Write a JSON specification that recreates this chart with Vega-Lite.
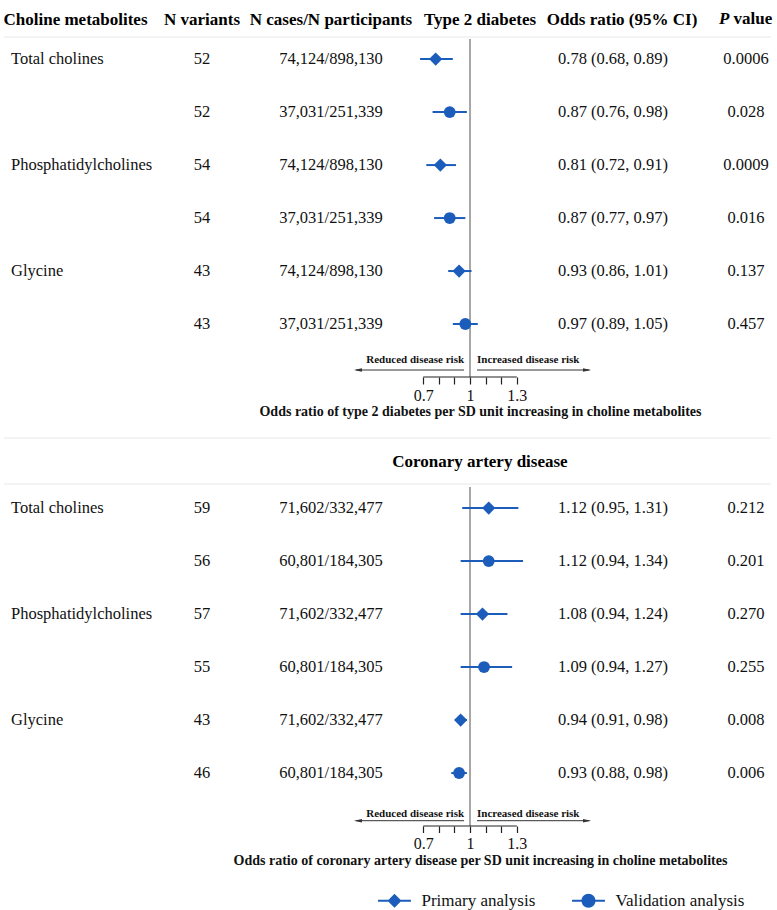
{
  "$schema": "https://vega.github.io/schema/vega-lite/v6.json",
  "background": "white",
  "padding": {"left": 3, "top": 9, "right": 5, "bottom": 2},
  "spacing": 18,
  "config": {
    "font": "Liberation Serif",
    "view": {"stroke": null},
    "axisY": {"disable": true},
    "text": {"font": "Liberation Serif", "fontSize": 16.5, "color": "#111", "baseline": "middle"},
    "title": {"font": "Liberation Serif", "fontSize": 17, "fontWeight": "bold", "color": "#000", "anchor": "middle"}
  },
  "datasets": {
    "t2d": [
      {"row": 1, "metabolite": "Total cholines", "nvar": "52", "ncases": "74,124/898,130", "analysis": "Primary analysis", "or": 0.78, "lo": 0.68, "hi": 0.89, "or_ci": "0.78 (0.68, 0.89)", "p": "0.0006"},
      {"row": 2, "metabolite": "", "nvar": "52", "ncases": "37,031/251,339", "analysis": "Validation analysis", "or": 0.87, "lo": 0.76, "hi": 0.98, "or_ci": "0.87 (0.76, 0.98)", "p": "0.028"},
      {"row": 3, "metabolite": "Phosphatidylcholines", "nvar": "54", "ncases": "74,124/898,130", "analysis": "Primary analysis", "or": 0.81, "lo": 0.72, "hi": 0.91, "or_ci": "0.81 (0.72, 0.91)", "p": "0.0009"},
      {"row": 4, "metabolite": "", "nvar": "54", "ncases": "37,031/251,339", "analysis": "Validation analysis", "or": 0.87, "lo": 0.77, "hi": 0.97, "or_ci": "0.87 (0.77, 0.97)", "p": "0.016"},
      {"row": 5, "metabolite": "Glycine", "nvar": "43", "ncases": "74,124/898,130", "analysis": "Primary analysis", "or": 0.93, "lo": 0.86, "hi": 1.01, "or_ci": "0.93 (0.86, 1.01)", "p": "0.137"},
      {"row": 6, "metabolite": "", "nvar": "43", "ncases": "37,031/251,339", "analysis": "Validation analysis", "or": 0.97, "lo": 0.89, "hi": 1.05, "or_ci": "0.97 (0.89, 1.05)", "p": "0.457"}
    ],
    "cad": [
      {"row": 1, "metabolite": "Total cholines", "nvar": "59", "ncases": "71,602/332,477", "analysis": "Primary analysis", "or": 1.12, "lo": 0.95, "hi": 1.31, "or_ci": "1.12 (0.95, 1.31)", "p": "0.212"},
      {"row": 2, "metabolite": "", "nvar": "56", "ncases": "60,801/184,305", "analysis": "Validation analysis", "or": 1.12, "lo": 0.94, "hi": 1.34, "or_ci": "1.12 (0.94, 1.34)", "p": "0.201"},
      {"row": 3, "metabolite": "Phosphatidylcholines", "nvar": "57", "ncases": "71,602/332,477", "analysis": "Primary analysis", "or": 1.08, "lo": 0.94, "hi": 1.24, "or_ci": "1.08 (0.94, 1.24)", "p": "0.270"},
      {"row": 4, "metabolite": "", "nvar": "55", "ncases": "60,801/184,305", "analysis": "Validation analysis", "or": 1.09, "lo": 0.94, "hi": 1.27, "or_ci": "1.09 (0.94, 1.27)", "p": "0.255"},
      {"row": 5, "metabolite": "Glycine", "nvar": "43", "ncases": "71,602/332,477", "analysis": "Primary analysis", "or": 0.94, "lo": 0.91, "hi": 0.98, "or_ci": "0.94 (0.91, 0.98)", "p": "0.008"},
      {"row": 6, "metabolite": "", "nvar": "46", "ncases": "60,801/184,305", "analysis": "Validation analysis", "or": 0.93, "lo": 0.88, "hi": 0.98, "or_ci": "0.93 (0.88, 0.98)", "p": "0.006"}
    ]
  },
  "vconcat": [
    {
      "bounds": "flush",
      "spacing": 0,
      "hconcat": [
        {
          "width": 159, "height": 340, "data": {"name": "t2d"},
          "title": {"text": "Choline metabolites", "anchor": "start", "offset": 7.4},
          "layer": [
            {"data": {"values": [{}]}, "mark": {"type": "rule", "color": "#e8e8e8"}, "encoding": {"y": {"datum": 0.583, "type": "quantitative", "scale": {"domain": [0.583, 7], "reverse": true, "nice": false, "zero": false}, "axis": null}}},
            {"mark": {"type": "text", "align": "left", "dx": 7}, "encoding": {"x": {"datum": 1, "type": "quantitative", "scale": {"domain": [1, 2], "zero": false, "nice": false}, "axis": null}, "y": {"field": "row", "type": "quantitative", "scale": {"domain": [0.583, 7], "reverse": true, "nice": false, "zero": false}, "axis": null}, "text": {"field": "metabolite"}}}
          ]
        },
        {
          "width": 78, "height": 340, "data": {"name": "t2d"},
          "title": {"text": "N variants", "offset": 7.4},
          "layer": [
            {"data": {"values": [{}]}, "mark": {"type": "rule", "color": "#e8e8e8"}, "encoding": {"y": {"datum": 0.583, "type": "quantitative", "scale": {"domain": [0.583, 7], "reverse": true, "nice": false, "zero": false}, "axis": null}}},
            {"mark": {"type": "text"}, "encoding": {"y": {"field": "row", "type": "quantitative", "scale": {"domain": [0.583, 7], "reverse": true, "nice": false, "zero": false}, "axis": null}, "text": {"field": "nvar"}}}
          ]
        },
        {
          "width": 180, "height": 340, "data": {"name": "t2d"},
          "title": {"text": "N cases/N participants", "offset": 7.4},
          "layer": [
            {"data": {"values": [{}]}, "mark": {"type": "rule", "color": "#e8e8e8"}, "encoding": {"y": {"datum": 0.583, "type": "quantitative", "scale": {"domain": [0.583, 7], "reverse": true, "nice": false, "zero": false}, "axis": null}}},
            {"mark": {"type": "text"}, "encoding": {"y": {"field": "row", "type": "quantitative", "scale": {"domain": [0.583, 7], "reverse": true, "nice": false, "zero": false}, "axis": null}, "text": {"field": "ncases"}}}
          ]
        },
        {
          "width": 118, "height": 340, "data": {"name": "t2d"},
          "title": {"text": "Type 2 diabetes", "offset": 7.4},
          "layer": [
            {"data": {"values": [{}]}, "mark": {"type": "rule", "color": "#e8e8e8"}, "encoding": {"y": {"datum": 0.583, "type": "quantitative", "scale": {"domain": [0.583, 7], "reverse": true, "nice": false, "zero": false}, "axis": null}}},
            {"data": {"values": [{}]}, "mark": {"type": "rule", "color": "#8a8a8a", "strokeWidth": 1.5}, "encoding": {"x": {"datum": 1, "type": "quantitative"}, "y": {"datum": 0.62, "type": "quantitative", "axis": null}, "y2": {"datum": 7}}},
            {"mark": {"type": "rule", "color": "#1c5dbc", "strokeWidth": 2}, "encoding": {
              "x": {"field": "lo", "type": "quantitative", "scale": {"domain": [0.6859, 1.4423], "nice": false, "zero": false},
                "axis": {"values": [0.7, 0.8, 0.9, 1, 1.1, 1.2, 1.3], "tickCount": 12, "labelExpr": "datum.value == 1 ? '1' : datum.value == 0.7 ? '0.7' : datum.value == 1.3 ? '1.3' : ''", "domain": false, "grid": false, "tickSize": 7, "tickColor": "#222", "tickWidth": 1.2, "labelFont": "Liberation Serif", "labelFontSize": 16, "labelColor": "#111", "labelPadding": 3, "labelFlush": false, "labelOverlap": false, "title": "Odds ratio of type 2 diabetes per SD unit increasing in choline metabolites", "titleFont": "Liberation Serif", "titleFontSize": 14, "titleFontWeight": "bold", "titleColor": "#111", "titlePadding": 1.5}},
              "x2": {"field": "hi"},
              "y": {"field": "row", "type": "quantitative", "scale": {"domain": [0.583, 7], "reverse": true, "nice": false, "zero": false}, "axis": null}}},
            {"transform": [{"filter": "datum.analysis == 'Primary analysis'"}], "mark": {"type": "point", "filled": true, "opacity": 1, "color": "#1c5dbc", "size": 175, "shape": "diamond"}, "encoding": {
              "x": {"field": "or", "type": "quantitative"},
              "y": {"field": "row", "type": "quantitative", "axis": null}}},
            {"transform": [{"filter": "datum.analysis == 'Validation analysis'"}], "mark": {"type": "point", "filled": true, "opacity": 1, "color": "#1c5dbc", "size": 140, "shape": "circle"}, "encoding": {
              "x": {"field": "or", "type": "quantitative"},
              "y": {"field": "row", "type": "quantitative", "axis": null}}},
            {"transform": [{"filter": "false"}], "mark": {"type": "point", "filled": true, "opacity": 1, "color": "#1c5dbc"}, "encoding": {
              "x": {"field": "or", "type": "quantitative"},
              "y": {"field": "row", "type": "quantitative", "axis": null},
              "shape": {"field": "analysis", "type": "nominal", "scale": {"domain": ["Primary analysis", "Validation analysis"], "range": ["M-2.35,-0.14H2.35V0.14H-2.35ZM-1,0L0,-1L1,0L0,1Z", "M-2.35,-0.14H2.35V0.14H-2.35ZM1,0A1,1,0,1,1,-1,0A1,1,0,1,1,1,0Z"]},
                "legend": {"title": null, "orient": "none", "legendX": 382, "legendY": 855, "direction": "horizontal", "labelFont": "Liberation Serif", "labelFontSize": 17, "labelColor": "#111", "symbolSize": 196, "labelOffset": 18.5, "columnPadding": 33, "padding": 0}}}},
            {"data": {"values": [{}]}, "mark": {"type": "rule", "color": "#222", "strokeWidth": 1.2}, "encoding": {"x": {"datum": 0.7, "type": "quantitative"}, "x2": {"datum": 1.3}, "y": {"datum": 7, "type": "quantitative", "axis": null}}},
            {"data": {"values": [{}]}, "mark": {"type": "rule", "color": "#333", "strokeWidth": 1}, "encoding": {"x": {"datum": 0.27, "type": "quantitative"}, "x2": {"datum": 0.962}, "y": {"datum": 6.868, "type": "quantitative", "axis": null}}},
            {"data": {"values": [{}]}, "mark": {"type": "rule", "color": "#333", "strokeWidth": 1}, "encoding": {"x": {"datum": 1.045, "type": "quantitative"}, "x2": {"datum": 1.765}, "y": {"datum": 6.868, "type": "quantitative", "axis": null}}},
            {"data": {"values": [{}]}, "mark": {"type": "point", "filled": true, "opacity": 1, "color": "#333", "size": 64, "shape": "M-1,0L1,-0.45L1,0.45Z"}, "encoding": {"x": {"datum": 0.2816, "type": "quantitative"}, "y": {"datum": 6.868, "type": "quantitative", "axis": null}}},
            {"data": {"values": [{}]}, "mark": {"type": "point", "filled": true, "opacity": 1, "color": "#333", "size": 64, "shape": "M1,0L-1,-0.45L-1,0.45Z"}, "encoding": {"x": {"datum": 1.75, "type": "quantitative"}, "y": {"datum": 6.868, "type": "quantitative", "axis": null}}},
            {"data": {"values": [{"t": "Reduced disease risk"}]}, "mark": {"type": "text", "align": "right", "fontSize": 11, "fontWeight": "bold"}, "encoding": {"x": {"datum": 0.962, "type": "quantitative"}, "y": {"datum": 6.68, "type": "quantitative", "axis": null}, "text": {"field": "t"}}},
            {"data": {"values": [{"t": "Increased disease risk"}]}, "mark": {"type": "text", "align": "left", "fontSize": 11, "fontWeight": "bold"}, "encoding": {"x": {"datum": 1.045, "type": "quantitative"}, "y": {"datum": 6.68, "type": "quantitative", "axis": null}, "text": {"field": "t"}}}
          ]
        },
        {
          "width": 182, "height": 340, "data": {"name": "t2d"},
          "title": {"text": "Odds ratio (95% CI)", "offset": 7.4, "dx": -8},
          "layer": [
            {"data": {"values": [{}]}, "mark": {"type": "rule", "color": "#e8e8e8"}, "encoding": {"y": {"datum": 0.583, "type": "quantitative", "scale": {"domain": [0.583, 7], "reverse": true, "nice": false, "zero": false}, "axis": null}}},
            {"mark": {"type": "text", "dx": -17}, "encoding": {"y": {"field": "row", "type": "quantitative", "scale": {"domain": [0.583, 7], "reverse": true, "nice": false, "zero": false}, "axis": null}, "text": {"field": "or_ci"}}}
          ]
        },
        {
          "width": 50, "height": 340, "data": {"name": "t2d"},
          "layer": [
            {"data": {"values": [{}]}, "mark": {"type": "rule", "color": "#e8e8e8"}, "encoding": {"y": {"datum": 0.583, "type": "quantitative", "scale": {"domain": [0.583, 7], "reverse": true, "nice": false, "zero": false}, "axis": null}}},
            {"mark": {"type": "text"}, "encoding": {"y": {"field": "row", "type": "quantitative", "scale": {"domain": [0.583, 7], "reverse": true, "nice": false, "zero": false}, "axis": null}, "text": {"field": "p"}}},
            {"data": {"values": [{"t": "P"}]}, "mark": {"type": "text", "align": "left", "fontSize": 17, "fontWeight": "bold", "fontStyle": "italic", "color": "#000", "dx": -2}, "encoding": {"x": {"datum": 1, "type": "quantitative", "scale": {"domain": [1, 2], "zero": false, "nice": false}, "axis": null}, "y": {"datum": 0.243, "type": "quantitative", "axis": null}, "text": {"field": "t"}}},
            {"data": {"values": [{"t": "value"}]}, "mark": {"type": "text", "align": "left", "fontSize": 17, "fontWeight": "bold", "color": "#000", "dx": 12.5}, "encoding": {"x": {"datum": 1, "type": "quantitative"}, "y": {"datum": 0.243, "type": "quantitative", "axis": null}, "text": {"field": "t"}}}
          ]
        }
      ]
    },
    {
      "bounds": "flush",
      "spacing": 0,
      "hconcat": [
        {
          "width": 159, "height": 340, "data": {"name": "cad"},
          "layer": [
            {"data": {"values": [{"s": -0.323}, {"s": 0.545}]}, "mark": {"type": "rule", "color": "#e8e8e8"}, "encoding": {"y": {"field": "s", "type": "quantitative", "scale": {"domain": [0.583, 7], "reverse": true, "nice": false, "zero": false}, "axis": null}}},
            {"mark": {"type": "text", "align": "left", "dx": 7}, "encoding": {"x": {"datum": 1, "type": "quantitative", "scale": {"domain": [1, 2], "zero": false, "nice": false}, "axis": null}, "y": {"field": "row", "type": "quantitative", "scale": {"domain": [0.583, 7], "reverse": true, "nice": false, "zero": false}, "axis": null}, "text": {"field": "metabolite"}}}
          ]
        },
        {
          "width": 78, "height": 340, "data": {"name": "cad"},
          "layer": [
            {"data": {"values": [{"s": -0.323}, {"s": 0.545}]}, "mark": {"type": "rule", "color": "#e8e8e8"}, "encoding": {"y": {"field": "s", "type": "quantitative", "scale": {"domain": [0.583, 7], "reverse": true, "nice": false, "zero": false}, "axis": null}}},
            {"mark": {"type": "text"}, "encoding": {"y": {"field": "row", "type": "quantitative", "scale": {"domain": [0.583, 7], "reverse": true, "nice": false, "zero": false}, "axis": null}, "text": {"field": "nvar"}}}
          ]
        },
        {
          "width": 180, "height": 340, "data": {"name": "cad"},
          "layer": [
            {"data": {"values": [{"s": -0.323}, {"s": 0.545}]}, "mark": {"type": "rule", "color": "#e8e8e8"}, "encoding": {"y": {"field": "s", "type": "quantitative", "scale": {"domain": [0.583, 7], "reverse": true, "nice": false, "zero": false}, "axis": null}}},
            {"mark": {"type": "text"}, "encoding": {"y": {"field": "row", "type": "quantitative", "scale": {"domain": [0.583, 7], "reverse": true, "nice": false, "zero": false}, "axis": null}, "text": {"field": "ncases"}}}
          ]
        },
        {
          "width": 118, "height": 340, "data": {"name": "cad"},
          "layer": [
            {"data": {"values": [{"s": -0.323}, {"s": 0.545}]}, "mark": {"type": "rule", "color": "#e8e8e8"}, "encoding": {"y": {"field": "s", "type": "quantitative", "scale": {"domain": [0.583, 7], "reverse": true, "nice": false, "zero": false}, "axis": null}}},
            {"data": {"values": [{"t": "Coronary artery disease"}]}, "mark": {"type": "text", "fontSize": 17, "fontWeight": "bold", "color": "#000"}, "encoding": {"y": {"datum": 0.13, "type": "quantitative", "axis": null}, "text": {"field": "t"}}},
            {"data": {"values": [{}]}, "mark": {"type": "rule", "color": "#8a8a8a", "strokeWidth": 1.5}, "encoding": {"x": {"datum": 1, "type": "quantitative"}, "y": {"datum": 0.6, "type": "quantitative", "axis": null}, "y2": {"datum": 7}}},
            {"mark": {"type": "rule", "color": "#1c5dbc", "strokeWidth": 2}, "encoding": {
              "x": {"field": "lo", "type": "quantitative", "scale": {"domain": [0.6859, 1.4423], "nice": false, "zero": false},
                "axis": {"values": [0.7, 0.8, 0.9, 1, 1.1, 1.2, 1.3], "tickCount": 12, "labelExpr": "datum.value == 1 ? '1' : datum.value == 0.7 ? '0.7' : datum.value == 1.3 ? '1.3' : ''", "domain": false, "grid": false, "tickSize": 6.5, "tickColor": "#222", "tickWidth": 1.2, "labelFont": "Liberation Serif", "labelFontSize": 16, "labelColor": "#111", "labelPadding": 3, "labelFlush": false, "labelOverlap": false, "title": "Odds ratio of coronary artery disease per SD unit increasing in choline metabolites", "titleFont": "Liberation Serif", "titleFontSize": 14, "titleFontWeight": "bold", "titleColor": "#111", "titlePadding": 1.5}},
              "x2": {"field": "hi"},
              "y": {"field": "row", "type": "quantitative", "scale": {"domain": [0.583, 7], "reverse": true, "nice": false, "zero": false}, "axis": null}}},
            {"transform": [{"filter": "datum.analysis == 'Primary analysis'"}], "mark": {"type": "point", "filled": true, "opacity": 1, "color": "#1c5dbc", "size": 175, "shape": "diamond"}, "encoding": {
              "x": {"field": "or", "type": "quantitative"},
              "y": {"field": "row", "type": "quantitative", "axis": null}}},
            {"transform": [{"filter": "datum.analysis == 'Validation analysis'"}], "mark": {"type": "point", "filled": true, "opacity": 1, "color": "#1c5dbc", "size": 140, "shape": "circle"}, "encoding": {
              "x": {"field": "or", "type": "quantitative"},
              "y": {"field": "row", "type": "quantitative", "axis": null}}},
            {"data": {"values": [{}]}, "mark": {"type": "rule", "color": "#222", "strokeWidth": 1.2}, "encoding": {"x": {"datum": 0.7, "type": "quantitative"}, "x2": {"datum": 1.3}, "y": {"datum": 7, "type": "quantitative", "axis": null}}},
            {"data": {"values": [{}]}, "mark": {"type": "rule", "color": "#333", "strokeWidth": 1}, "encoding": {"x": {"datum": 0.27, "type": "quantitative"}, "x2": {"datum": 0.962}, "y": {"datum": 6.9, "type": "quantitative", "axis": null}}},
            {"data": {"values": [{}]}, "mark": {"type": "rule", "color": "#333", "strokeWidth": 1}, "encoding": {"x": {"datum": 1.045, "type": "quantitative"}, "x2": {"datum": 1.765}, "y": {"datum": 6.9, "type": "quantitative", "axis": null}}},
            {"data": {"values": [{}]}, "mark": {"type": "point", "filled": true, "opacity": 1, "color": "#333", "size": 64, "shape": "M-1,0L1,-0.45L1,0.45Z"}, "encoding": {"x": {"datum": 0.2816, "type": "quantitative"}, "y": {"datum": 6.9, "type": "quantitative", "axis": null}}},
            {"data": {"values": [{}]}, "mark": {"type": "point", "filled": true, "opacity": 1, "color": "#333", "size": 64, "shape": "M1,0L-1,-0.45L-1,0.45Z"}, "encoding": {"x": {"datum": 1.75, "type": "quantitative"}, "y": {"datum": 6.9, "type": "quantitative", "axis": null}}},
            {"data": {"values": [{"t": "Reduced disease risk"}]}, "mark": {"type": "text", "align": "right", "fontSize": 11, "fontWeight": "bold"}, "encoding": {"x": {"datum": 0.962, "type": "quantitative"}, "y": {"datum": 6.77, "type": "quantitative", "axis": null}, "text": {"field": "t"}}},
            {"data": {"values": [{"t": "Increased disease risk"}]}, "mark": {"type": "text", "align": "left", "fontSize": 11, "fontWeight": "bold"}, "encoding": {"x": {"datum": 1.045, "type": "quantitative"}, "y": {"datum": 6.77, "type": "quantitative", "axis": null}, "text": {"field": "t"}}}
          ]
        },
        {
          "width": 182, "height": 340, "data": {"name": "cad"},
          "layer": [
            {"data": {"values": [{"s": -0.323}, {"s": 0.545}]}, "mark": {"type": "rule", "color": "#e8e8e8"}, "encoding": {"y": {"field": "s", "type": "quantitative", "scale": {"domain": [0.583, 7], "reverse": true, "nice": false, "zero": false}, "axis": null}}},
            {"mark": {"type": "text", "dx": -17}, "encoding": {"y": {"field": "row", "type": "quantitative", "scale": {"domain": [0.583, 7], "reverse": true, "nice": false, "zero": false}, "axis": null}, "text": {"field": "or_ci"}}}
          ]
        },
        {
          "width": 50, "height": 340, "data": {"name": "cad"},
          "layer": [
            {"data": {"values": [{"s": -0.323}, {"s": 0.545}]}, "mark": {"type": "rule", "color": "#e8e8e8"}, "encoding": {"y": {"field": "s", "type": "quantitative", "scale": {"domain": [0.583, 7], "reverse": true, "nice": false, "zero": false}, "axis": null}}},
            {"mark": {"type": "text"}, "encoding": {"y": {"field": "row", "type": "quantitative", "scale": {"domain": [0.583, 7], "reverse": true, "nice": false, "zero": false}, "axis": null}, "text": {"field": "p"}}}
          ]
        }
      ]
    }
  ]
}
